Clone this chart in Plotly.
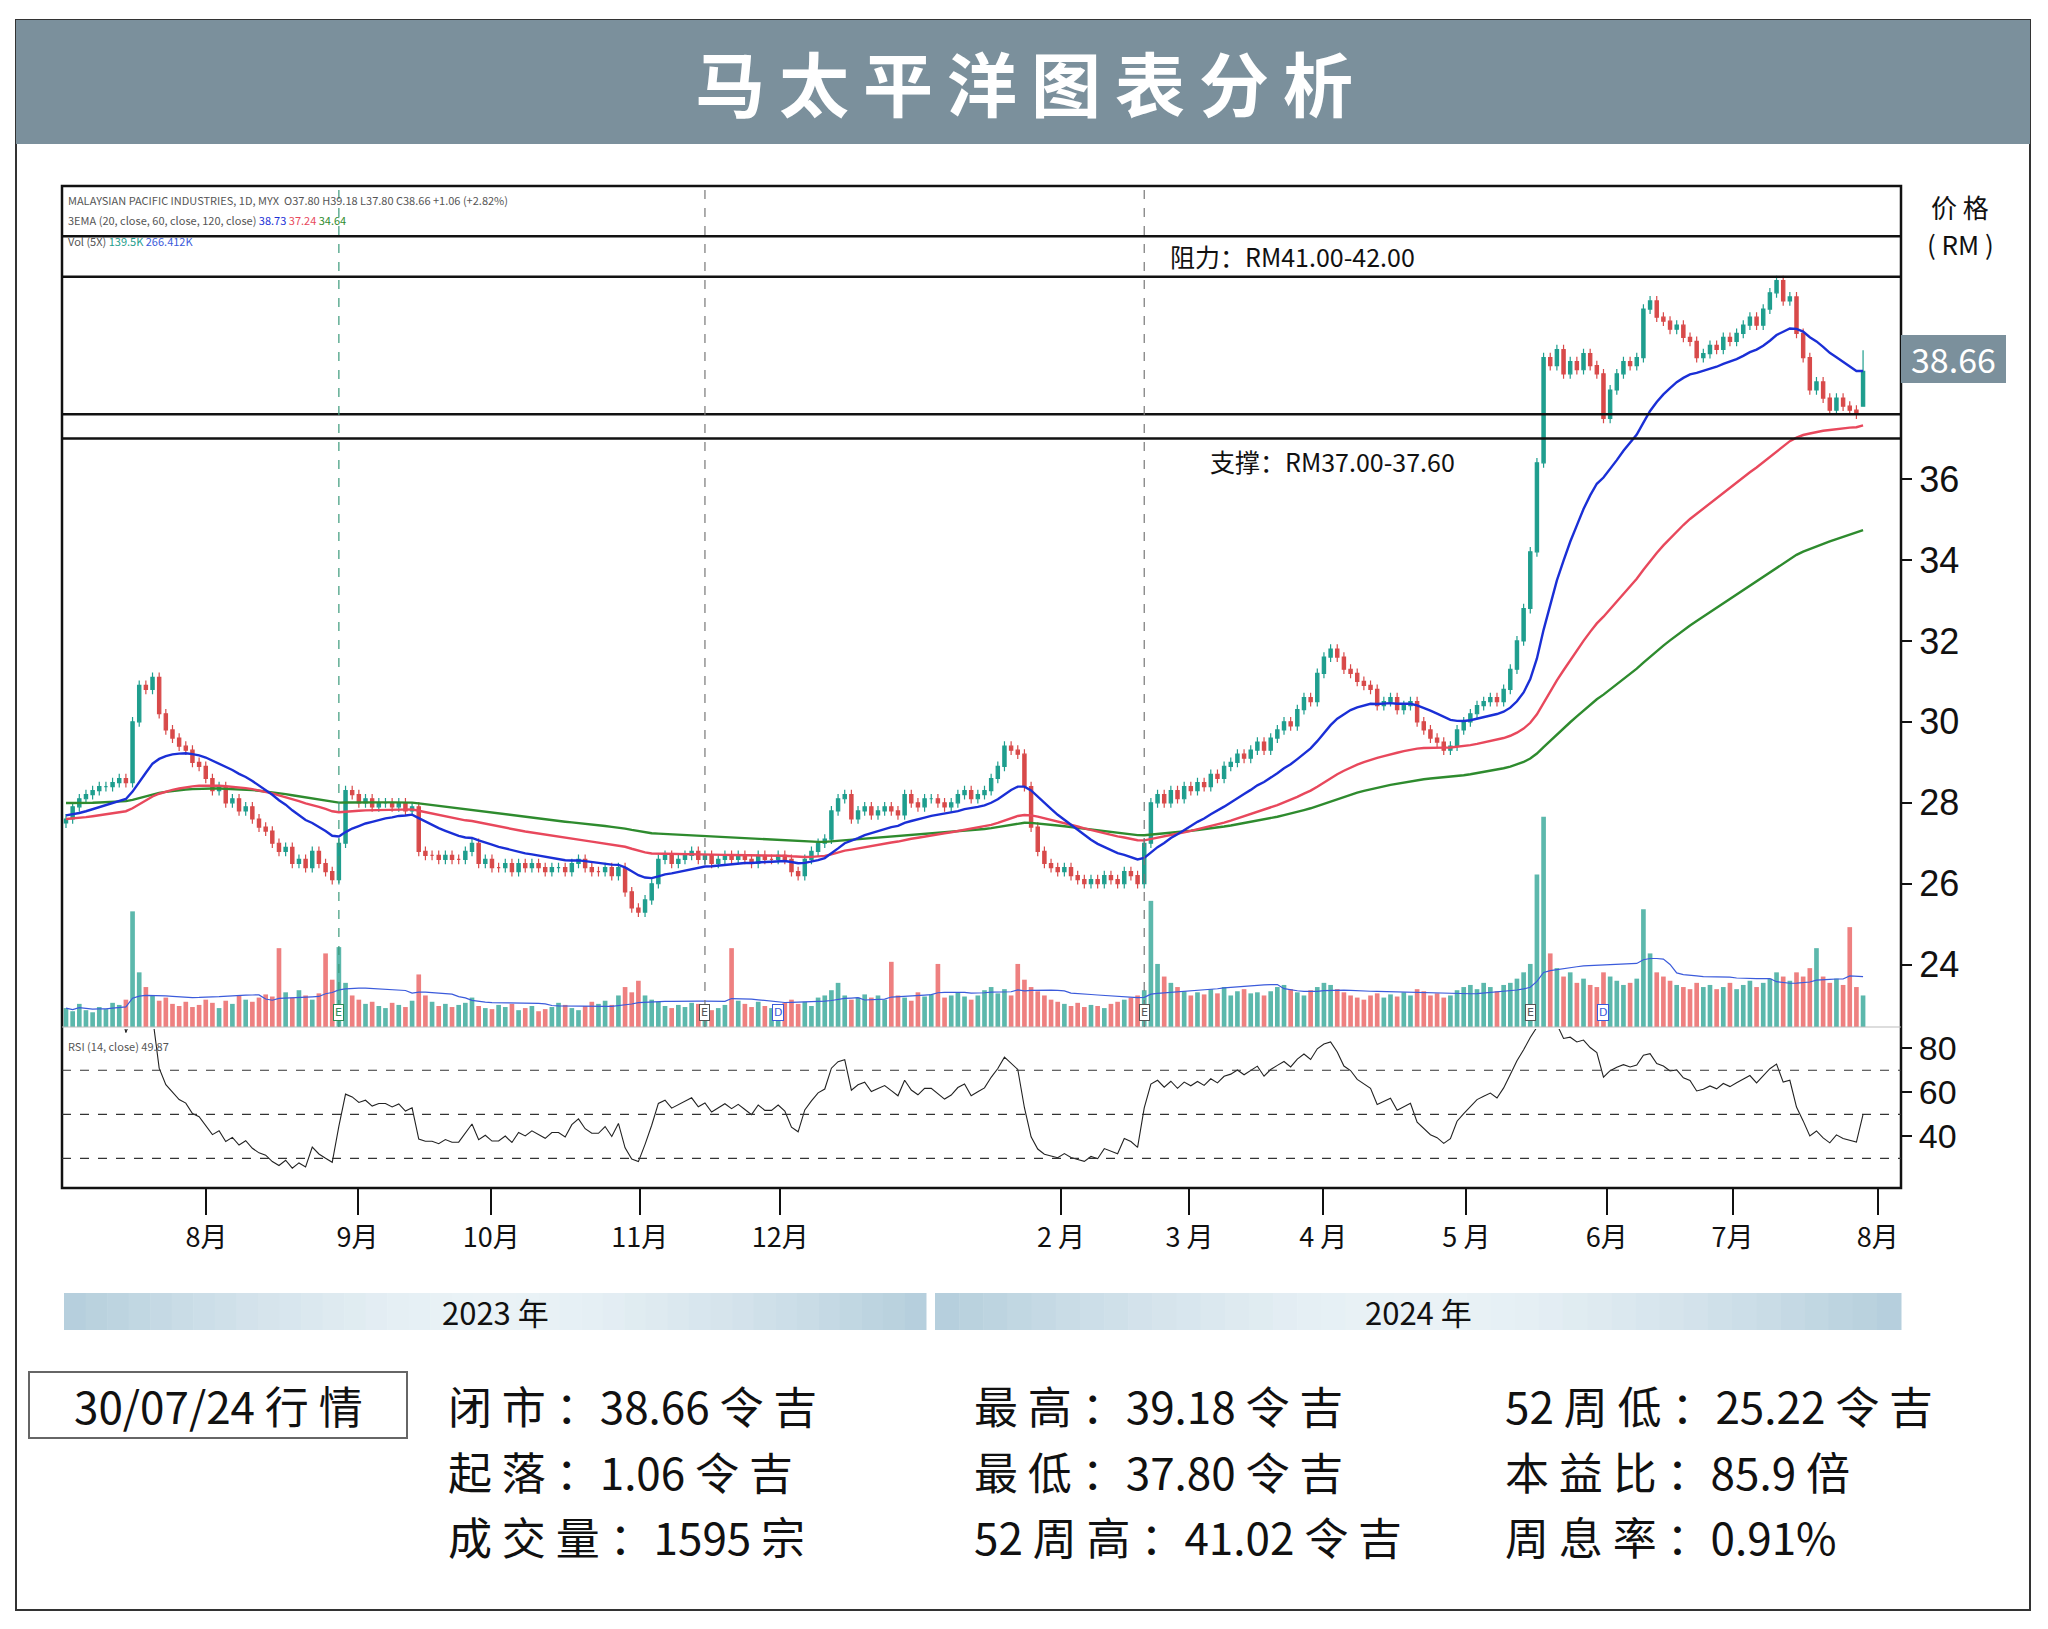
import numpy as np
import pandas as pd
import plotly.graph_objects as go

closes = [
27.6,27.9,28.1,28.2,28.3,28.4,28.4,28.5,28.6,28.5,
30.0,30.9,30.8,31.1,30.2,29.8,29.6,29.4,29.3,29.0,
28.9,28.6,28.3,28.4,28.0,28.1,27.8,27.9,27.6,27.4,
27.3,27.0,26.8,26.9,26.5,26.6,26.4,26.8,26.5,26.3,
26.1,27.0,28.3,28.2,28.0,28.1,27.9,28.0,28.0,27.9,
28.0,27.8,27.9,26.8,26.7,26.7,26.6,26.7,26.6,26.6,
26.8,27.0,26.5,26.6,26.4,26.4,26.5,26.3,26.5,26.4,
26.5,26.4,26.3,26.4,26.4,26.3,26.5,26.6,26.4,26.3,
26.3,26.4,26.2,26.4,25.8,25.4,25.3,25.6,26.0,26.6,
26.7,26.5,26.6,26.7,26.8,26.6,26.7,26.5,26.6,26.7,
26.6,26.7,26.6,26.5,26.7,26.6,26.6,26.7,26.6,26.3,
26.2,26.6,26.8,27.0,27.1,27.8,28.1,28.2,27.6,27.8,
27.9,27.7,27.8,27.9,27.8,27.7,28.2,28.0,27.9,28.1,
28.1,28.0,27.9,28.0,28.2,28.3,28.1,28.2,28.3,28.6,
28.9,29.4,29.3,29.2,28.4,27.4,26.8,26.5,26.4,26.3,
26.4,26.2,26.1,26.0,26.1,26.0,26.2,26.1,26.0,26.3,
26.2,26.0,27.0,28.0,28.2,28.0,28.3,28.1,28.4,28.3,
28.5,28.4,28.7,28.6,28.9,29.0,29.2,29.1,29.3,29.5,
29.3,29.6,29.8,30.0,29.9,30.3,30.6,30.5,31.2,31.6,
31.8,31.6,31.3,31.2,31.0,30.9,30.8,30.4,30.5,30.6,
30.3,30.4,30.5,30.0,29.8,29.6,29.5,29.3,29.4,29.8,
30.0,30.2,30.4,30.5,30.6,30.5,30.8,31.3,32.0,32.8,
34.2,36.4,39.0,38.8,39.2,38.6,38.9,38.7,39.1,38.8,
38.6,37.5,38.2,38.6,38.9,38.8,39.0,40.2,40.4,40.0,
39.9,39.7,39.8,39.5,39.4,39.0,39.1,39.3,39.2,39.5,
39.4,39.6,39.8,40.0,39.8,40.2,40.6,40.9,40.4,40.5,
39.6,39.0,38.2,38.4,38.0,37.7,38.0,37.8,37.7,37.6,
38.66]

volumes = [
180,150,220,160,140,190,170,230,210,260,
1100,520,380,300,250,280,220,200,240,190,
210,260,230,180,250,220,300,260,240,280,
310,290,750,330,280,350,300,260,320,700,
450,760,420,300,260,220,240,200,180,230,
210,190,250,500,300,240,200,220,190,210,
230,280,200,180,170,210,190,220,160,180,
200,150,170,190,230,210,180,160,200,240,
220,250,210,300,380,330,440,300,260,240,
200,180,210,190,230,220,170,160,180,210,
750,250,220,190,240,200,180,210,230,260,
220,240,200,280,300,350,420,300,260,280,
310,280,300,260,620,300,280,250,330,290,
310,600,280,300,330,290,260,300,350,380,
320,360,300,600,450,380,340,300,260,240,
220,200,230,190,210,200,180,220,240,260,
280,300,350,1200,600,480,420,380,340,300,
330,310,360,320,380,300,340,360,320,330,
300,340,380,400,360,330,300,350,380,420,
400,360,330,300,280,260,300,320,280,310,
290,330,300,360,340,300,320,280,300,350,
380,400,360,420,380,340,400,420,460,520,
600,1450,2000,700,560,480,520,420,460,400,
380,520,480,440,400,420,460,1120,700,520,
480,440,400,380,360,420,380,400,360,380,
420,360,400,440,380,420,460,520,480,440,
520,480,560,750,480,420,460,400,950,380,
300]

ema_seed = [27.7, 27.6, 28.0]

month_ticks = [21.1, 43.8, 63.9, 86.2, 107.3, 149.5, 168.8, 188.9, 210.4, 231.5, 250.4, 272.2]
month_labels = ["8月", "9月", "10月", "11月", "12月", "2 月", "3 月", "4 月", "5 月", "6月", "7月", "8月"]

resistance = [41.0, 42.0]
support = [37.0, 37.6]
last_price = 38.66

n = len(closes)
idx = np.arange(n)
c = pd.Series(closes, dtype=float)
o = c.shift(1).fillna(c.iloc[0] - 0.1)
o.iloc[-1] = 37.80
h = np.maximum(o, c) + 0.12
l = np.minimum(o, c) - 0.12
h.iloc[-1] = 39.18
l.iloc[-1] = 37.80

def ema(series, span, seed):
    a = 2 / (span + 1)
    out = []
    prev = seed
    for val in series:
        prev = a * val + (1 - a) * prev
        out.append(prev)
    return pd.Series(out)

ema20 = ema(c, 20, ema_seed[0])
ema60 = ema(c, 60, ema_seed[1])
ema120 = ema(c, 120, ema_seed[2])
d = c.diff()
up = d.clip(lower=0).ewm(alpha=1/14, adjust=True).mean()
dn = (-d.clip(upper=0)).ewm(alpha=1/14, adjust=True).mean()
rsi = 100 - 100 / (1 + up / dn)

v = pd.Series(volumes, dtype=float)
vma = v.rolling(20, min_periods=1).mean()

UP = "#1f9e8e"; DN = "#d84a4a"
vcol = ["#5cb8ac" if cc >= oo else "#ee8080" for cc, oo in zip(c, o)]

FONT = "Noto Sans CJK SC"
OFF = 8
W, H = 2032, 1605
def px(x): return (x - OFF) / W
def py(y): return 1 - (y - OFF) / H

XD = [px(62), px(1901)]
PY = [py(1027), py(186)]
RY = [py(1188), py(1029)]
xr = [-0.6, 275.7]

fig = go.Figure()
fig.add_trace(go.Bar(x=idx, y=v, marker_color=vcol, marker_line_width=0, width=0.7,
                     xaxis="x", yaxis="y3", showlegend=False))
fig.add_trace(go.Scatter(x=idx, y=vma, mode="lines", line=dict(color="#3b5bdb", width=1.2),
                         xaxis="x", yaxis="y3", showlegend=False))
fig.add_trace(go.Candlestick(x=idx, open=o, high=h, low=l, close=c,
                             increasing=dict(line=dict(color=UP, width=1.2), fillcolor=UP),
                             decreasing=dict(line=dict(color=DN, width=1.2), fillcolor=DN),
                             whiskerwidth=0, xaxis="x", yaxis="y", showlegend=False))
for s, col in [(ema120, "#2e8b2e"), (ema60, "#e8485c"), (ema20, "#1a2fd6")]:
    fig.add_trace(go.Scatter(x=idx, y=s, mode="lines", line=dict(color=col, width=2.4),
                             xaxis="x", yaxis="y", showlegend=False))
fig.add_trace(go.Scatter(x=idx, y=rsi, mode="lines", line=dict(color="#222", width=1.1),
                         xaxis="x2", yaxis="y2", showlegend=False))

shapes = []
shapes.append(dict(type="rect", xref="paper", yref="paper", x0=px(16), x1=px(2030), y0=py(1610), y1=py(20),
                   line=dict(color="#333", width=2), fillcolor="rgba(0,0,0,0)", layer="below"))
shapes.append(dict(type="rect", xref="paper", yref="paper", x0=px(16), x1=px(2030), y0=py(144), y1=py(20),
                   line=dict(width=0), fillcolor="#7b909c"))
shapes.append(dict(type="rect", xref="paper", yref="paper", x0=XD[0], x1=XD[1], y0=RY[0], y1=PY[1],
                   line=dict(color="#111", width=2.5)))
shapes.append(dict(type="line", xref="paper", yref="paper", x0=XD[0], x1=XD[1], y0=PY[0], y1=PY[0],
                   line=dict(color="#bbb", width=1)))
for yv in resistance + support:
    shapes.append(dict(type="line", xref="paper", yref="y", x0=XD[0], x1=XD[1], y0=yv, y1=yv,
                       line=dict(color="#111", width=2.5)))
for xv, col in [(41, "#3a9a7a"), (96, "#777"), (162, "#777")]:
    shapes.append(dict(type="line", xref="x", yref="paper", x0=xv, x1=xv, y0=PY[0], y1=PY[1],
                       line=dict(color=col, width=1.2, dash="dash")))
for lv in [70, 50, 30]:
    shapes.append(dict(type="line", xref="paper", yref="y2", x0=XD[0], x1=XD[1], y0=lv, y1=lv,
                       line=dict(color="#333", width=1.2, dash="dash")))
def grad_bar(x0, x1, y0, y1):
    N = 40
    for k in range(N):
        t = (k + 0.5) / N
        w = 1 - abs(2 * t - 1) ** 1.5
        r = int(180 + (235 - 180) * w); g = int(206 + (243 - 206) * w); b = int(220 + (247 - 220) * w)
        xa = x0 + (x1 - x0) * k / N; xb = x0 + (x1 - x0) * (k + 1) / N + 0.5
        shapes.append(dict(type="rect", xref="paper", yref="paper", x0=px(xa), x1=px(xb), y0=py(y1), y1=py(y0),
                           line=dict(width=0), fillcolor=f"rgb({r},{g},{b})"))
grad_bar(64, 926, 1293, 1330)
grad_bar(935, 1901, 1293, 1330)
shapes.append(dict(type="rect", xref="paper", yref="paper", x0=px(29), x1=px(407), y0=py(1438), y1=py(1372),
                   line=dict(color="#666", width=2)))
shapes.append(dict(type="rect", xref="paper", yref="paper", x0=px(1901), x1=px(2006), y0=py(383), y1=py(335),
                   line=dict(width=0), fillcolor="#7b909c"))

ann = []
def A(x, y, t, size, color="#111", xa="left", **kw):
    ann.append(dict(xref="paper", yref="paper", x=px(x), y=py(y), text=t, showarrow=False, xanchor=xa,
                    yanchor="middle", font=dict(family=FONT, size=size, color=color), **kw))
A(1024, 82, "<b>" + "\u2009".join("马太平洋图表分析") + "</b>", 70, "white", "center")
A(1960, 207, "价 格", 26, xa="center")
A(1960, 243, "( RM )", 26, xa="center")
A(1953, 359, "38.66", 34, "white", "center")
A(66, 200, "MALAYSIAN PACIFIC INDUSTRIES, 1D, MYX  O37.80 H39.18 L37.80 C38.66 +1.06 (+2.82%)", 11, "#555")
A(66, 220, "3EMA (20, close, 60, close, 120, close) <span style='color:#1a2fd6'>38.73</span> "
           "<span style='color:#e8485c'>37.24</span> <span style='color:#2e8b2e'>34.64</span>", 11, "#555")
A(66, 241, "Vol (5X) <span style='color:#1f9e8e'>139.5K</span> <span style='color:#3b5bdb'>266.412K</span>", 11, "#555")
A(66, 1046, "RSI (14, close) 49.87", 11, "#555")
A(1168, 256, "阻力：RM41.00-42.00", 25)
A(1208, 461, "支撑：RM37.00-37.60", 25)
A(495, 1311, "2023 年", 31, xa="center")
A(1418, 1311, "2024 年", 31, xa="center")
A(218, 1405, "30/07/24 行 情", 44, xa="center")
rows = [
    (446, 1405, "闭 市 ：38.66 令 吉"), (446, 1471, "起 落 ：1.06 令 吉"), (446, 1536, "成 交 量 ：1595 宗"),
    (972, 1405, "最 高 ：39.18 令 吉"), (972, 1471, "最 低 ：37.80 令 吉"), (972, 1536, "52 周 高 ：41.02 令 吉"),
    (1503, 1405, "52 周 低 ：25.22 令 吉"), (1503, 1471, "本 益 比 ：85.9 倍"), (1503, 1536, "周 息 率 ：0.91%"),
]
for x, y, t in rows:
    A(x, y, t, 44)
for xv, t, col in [(41, "E", "#2e8b57"), (96, "E", "#555"), (107, "D", "#3b5bdb"),
                   (162, "E", "#555"), (220, "E", "#555"), (231, "D", "#3b5bdb")]:
    ann.append(dict(xref="x", yref="paper", x=xv, y=py(1012), text=t, showarrow=False,
                    font=dict(family="DejaVu Sans", size=11, color=col), bordercolor=col, borderwidth=1,
                    borderpad=1, bgcolor="white"))

fig.update_layout(
    width=W, height=H, margin=dict(l=0, r=0, t=0, b=0), paper_bgcolor="white", plot_bgcolor="white",
    shapes=shapes, annotations=ann, bargap=0.3,
    xaxis=dict(domain=XD, range=xr, showticklabels=False, showgrid=False, zeroline=False,
               rangeslider=dict(visible=False), anchor="y"),
    yaxis=dict(domain=PY, range=[22.46, 43.24], side="right", tickvals=[24, 26, 28, 30, 32, 34, 36],
               ticks="outside", ticklen=10, tickwidth=2, tickcolor="#111", showgrid=False, zeroline=False,
               tickfont=dict(family="Liberation Sans", size=36, color="#111"), anchor="x"),
    yaxis3=dict(domain=PY, range=[0, 8000], overlaying="y", visible=False),
    xaxis2=dict(domain=XD, range=xr, tickvals=month_ticks, ticktext=month_labels, ticks="outside",
                ticklen=26, tickwidth=2, tickcolor="#111", showgrid=False, zeroline=False, anchor="y2",
                tickfont=dict(family=FONT, size=27, color="#111")),
    yaxis2=dict(domain=RY, range=[16.6, 88.7], side="right", tickvals=[40, 60, 80], ticks="outside",
                ticklen=10, tickwidth=2, tickcolor="#111", showgrid=False, zeroline=False, anchor="x2",
                tickfont=dict(family="Liberation Sans", size=34, color="#111")),
)
fig.write_html("out.html")
